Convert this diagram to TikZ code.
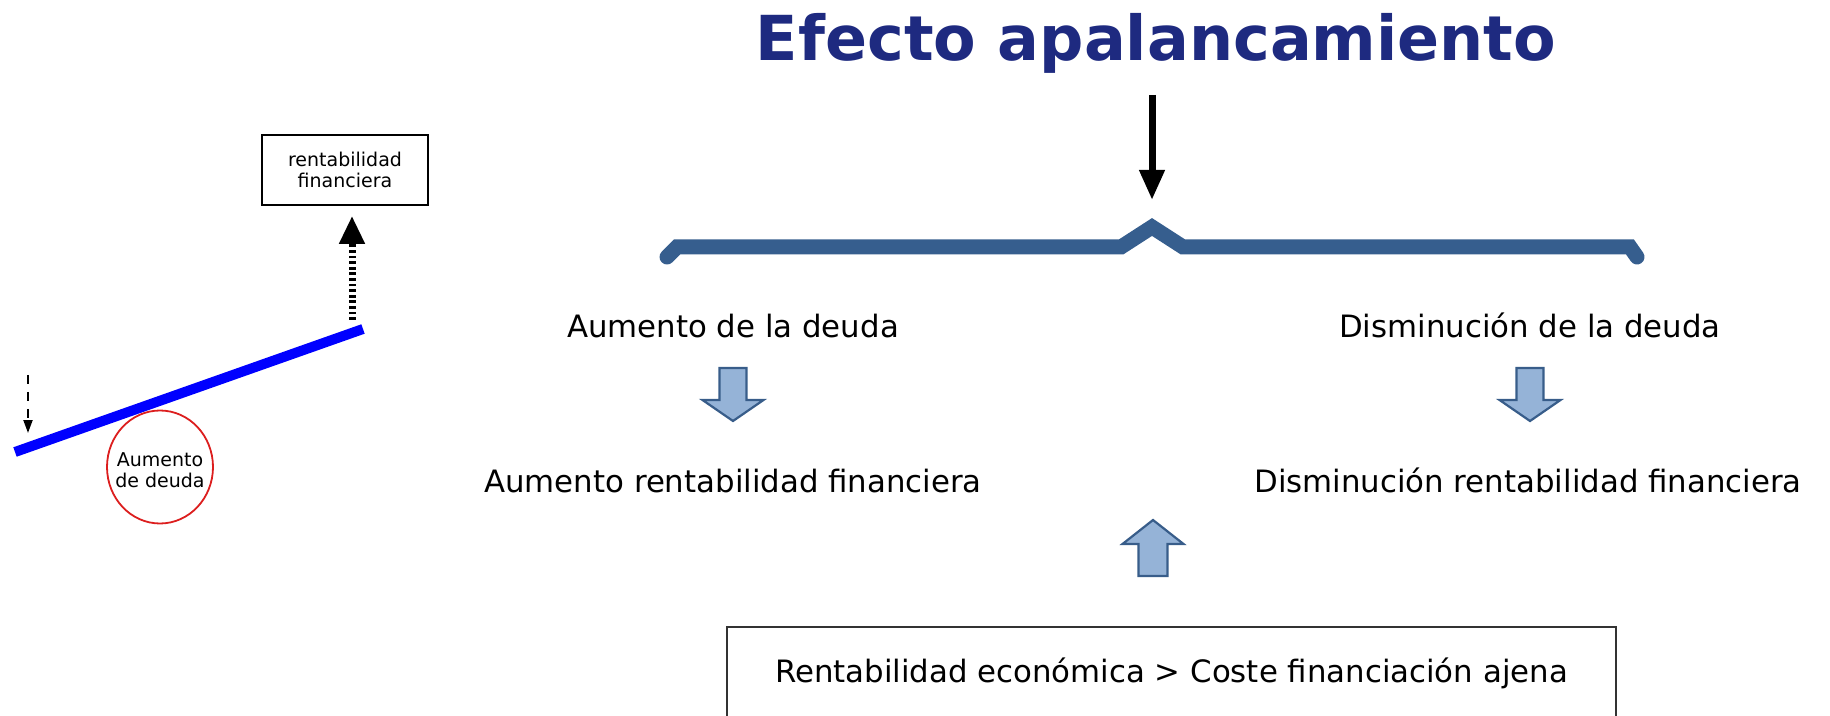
\documentclass[tikz,border=0pt]{standalone}
\usepackage{fontspec}
\setmainfont{DejaVu Sans}
\usetikzlibrary{arrows.meta,shapes.geometric}
\definecolor{titleblue}{RGB}{30,42,128}
\definecolor{bracecol}{RGB}{54,94,142}
\definecolor{arrowfill}{RGB}{149,179,215}
\definecolor{arrowline}{RGB}{56,93,138}
\definecolor{circred}{RGB}{220,30,30}

\begin{document}
\begin{tikzpicture}[x=0.5pt, y=-0.5pt,
    every node/.style={inner sep=0pt, font=\fontsize{15.4}{18}\selectfont},
    small/.style={font=\fontsize{9.5}{10.5}\selectfont, align=center},
    blockarr/.style={fill=arrowfill, draw=arrowline, line width=1.1pt, line join=miter},
    brace/.style={draw=bracecol, line width=7.5pt, line cap=round, line join=miter}]
  \useasboundingbox (0,0) rectangle (1830,716);
  % titulo y llave
  \node[anchor=base, font=\fontsize{31}{36}\selectfont\bfseries, text=titleblue] (title) at (1156,61) {Efecto apalancamiento};
  \coordinate (tarrow) at (1152,95);
  \coordinate (peak) at (1152,227);
  \draw[line width=3.5pt, -{Triangle[width=12pt,length=15pt]}, shorten >=13.5pt] (tarrow) -- (peak);
  \draw[brace] (667,257) -- (677,247) -- (1121,247) -- (peak) -- (1183,247) -- (1630,247) -- (1637,257);
  % ramas
  \node[anchor=base] (aumdeuda) at (733,338) {Aumento de la deuda};
  \node[anchor=base] (disdeuda) at (1530,338) {Disminución de la deuda};
  \node[anchor=base] (aumrent) at (733,492) {Aumento rentabilidad financiera};
  \node[anchor=base] (disrent) at (1528,492) {Disminución rentabilidad financiera};
  \foreach \cx in {733,1530}
    \draw[blockarr] (\cx-13.5,368) -- (\cx+13.5,368) -- (\cx+13.5,400) -- (\cx+30.5,400) -- (\cx,421) -- (\cx-30.5,400) -- (\cx-13.5,400) -- cycle;
  \draw[blockarr] (1153,520) -- (1183.5,544) -- (1167.5,544) -- (1167.5,576) -- (1138.5,576) -- (1138.5,544) -- (1122.5,544) -- cycle;
  \node[draw=black!80, line width=0.8pt, minimum width=444.5pt, minimum height=46pt] (cond) at (1171.5,673) {Rentabilidad económica > Coste financiación ajena};
  % palanca
  \node[draw, line width=0.8pt, minimum width=83pt, minimum height=35pt, small] (rentbox) at (345,170) {rentabilidad\\financiera};
  \coordinate (lev-l) at (15,452);
  \coordinate (lev-r) at (363,329);
  \draw[blue, line width=5pt] (lev-l) -- (lev-r);
  \node[ellipse, draw=circred, line width=0.9pt, minimum width=53pt, minimum height=56.5pt] (circ) at (160,467) {};
  \node[small] (circtxt) at (160,470) {Aumento\\de deuda};
  \coordinate (dotbase) at (352,320);
  \draw[line width=3.5pt, dash pattern=on 1.4pt off 1.4pt, -{Triangle[width=12pt,length=14pt]}, shorten >=5pt] (dotbase) -- (rentbox.south -| dotbase);
  \coordinate (dtop) at (28,375);
  \coordinate (dtip) at (28,433);
  \draw[line width=1pt, dash pattern=on 4.5pt off 4pt, -{Triangle[width=4.5pt,length=6.5pt]}] (dtop) -- (dtip);
\end{tikzpicture}
\end{document}
